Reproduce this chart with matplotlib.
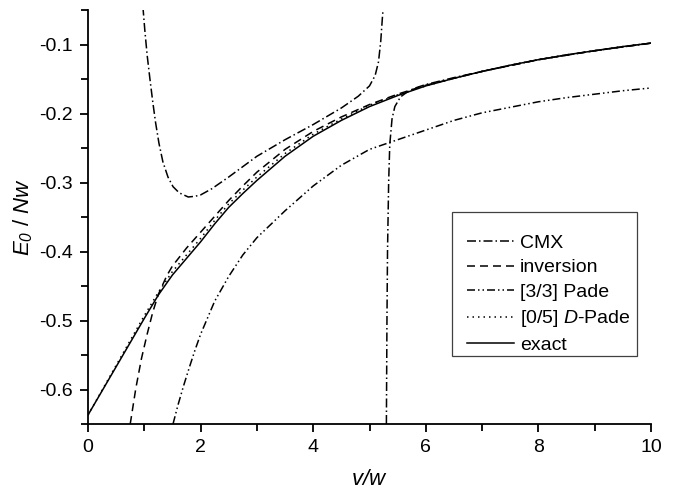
import matplotlib
matplotlib.use("Agg")
import matplotlib.pyplot as plt
from matplotlib.patches import Rectangle

plt.rcParams['font.family'] = ['Liberation Sans', 'DejaVu Sans']
plt.rcParams['mathtext.fontset'] = 'custom'
plt.rcParams['mathtext.rm'] = 'Liberation Sans:italic'
plt.rcParams['mathtext.it'] = 'Liberation Sans:italic'
plt.rcParams['axes.unicode_minus'] = False
plt.rcParams['lines.scale_dashes'] = False

# ---- data ----
exact_x = [0, 0.25, 0.5, 0.75, 1.0, 1.25, 1.5, 1.75, 2.0, 2.25, 2.5, 2.75, 3.0,
           3.5, 4.0, 4.5, 5.0, 5.5, 6.0, 6.5, 7.0, 7.5, 8.0, 8.5, 9.0, 9.5, 10.0]
exact_y = [-0.637, -0.602, -0.567, -0.532, -0.497, -0.463, -0.434, -0.410, -0.386,
           -0.360, -0.336, -0.316, -0.297, -0.262, -0.233, -0.210, -0.190, -0.174,
           -0.160, -0.149, -0.139, -0.130, -0.122, -0.115, -0.109, -0.103, -0.098]

dpade_x = [0, 0.25, 0.5, 0.75, 1.0, 1.25, 1.5, 1.75, 2.0, 2.25, 2.5, 2.75, 3.0,
           3.5, 4.0, 4.5, 5.0, 5.5, 6.0, 6.5, 7.0, 7.5, 8.0, 8.5, 9.0, 9.5, 10.0]
dpade_y = [-0.637, -0.601, -0.565, -0.529, -0.493, -0.459, -0.429, -0.405, -0.381,
           -0.355, -0.331, -0.311, -0.292, -0.258, -0.230, -0.208, -0.188, -0.173,
           -0.160, -0.149, -0.139, -0.130, -0.122, -0.115, -0.109, -0.103, -0.098]

inv_x = [0.75, 0.85, 0.95, 1.05, 1.15, 1.25, 1.4, 1.5, 1.75, 2.0, 2.25, 2.5, 2.75,
         3.0, 3.5, 4.0, 4.5, 5.0, 5.5, 6.0, 7.0, 8.0, 9.0, 10.0]
inv_y = [-0.650, -0.598, -0.555, -0.520, -0.488, -0.462, -0.435, -0.421, -0.395,
         -0.372, -0.349, -0.326, -0.305, -0.285, -0.252, -0.226, -0.205, -0.187,
         -0.172, -0.159, -0.139, -0.122, -0.109, -0.098]

cmx_left_x = [0.975, 1.01, 1.05, 1.10, 1.15, 1.20, 1.26, 1.33, 1.42, 1.51, 1.62,
              1.78, 1.9, 2.0, 2.2, 2.5, 3.0, 3.5, 4.0, 4.5, 4.8, 5.0, 5.1, 5.16,
              5.2, 5.23, 5.25]
cmx_left_y = [-0.045, -0.080, -0.115, -0.150, -0.183, -0.213, -0.243, -0.270,
              -0.292, -0.306, -0.315, -0.321, -0.320, -0.318, -0.309, -0.292,
              -0.262, -0.238, -0.216, -0.192, -0.175, -0.160, -0.145, -0.125,
              -0.095, -0.060, -0.040]

cmx_right_x = [5.30, 5.31, 5.32, 5.34, 5.36, 5.40, 5.45, 5.55, 5.7, 5.85, 6.0,
               6.5, 7.0, 8.0, 9.0, 10.0]
cmx_right_y = [-0.650, -0.500, -0.400, -0.300, -0.245, -0.208, -0.190, -0.176,
               -0.167, -0.162, -0.158, -0.148, -0.139, -0.122, -0.109, -0.098]

pade_x = [1.51, 1.6, 1.7, 1.8, 1.9, 2.0, 2.25, 2.5, 2.75, 3.0, 3.5, 4.0, 4.5, 5.0,
          5.5, 6.0, 6.5, 7.0, 7.5, 8.0, 8.5, 9.0, 9.5, 10.0]
pade_y = [-0.650, -0.622, -0.594, -0.568, -0.543, -0.520, -0.472, -0.436, -0.405,
          -0.380, -0.341, -0.305, -0.275, -0.252, -0.238, -0.224, -0.210, -0.199,
          -0.191, -0.183, -0.177, -0.172, -0.167, -0.163]

labels = ['CMX', 'inversion', '[3/3] Pade', '[0/5] $D$-Pade', 'exact']
xticks = [0, 2, 4, 6, 8, 10]
yticks = [-0.6, -0.5, -0.4, -0.3, -0.2, -0.1]

# ---- styles ----
px = 0.72
ls_cmx = (0, (9 * px, 3 * px, 1.5 * px, 3 * px))
ls_inv = (0, (8 * px, 5 * px))
ls_pade = (0, (8 * px, 3 * px, 1.5 * px, 3 * px, 1.5 * px, 3 * px))
ls_dot = (0, (1.5 * px, 4 * px))
lw = 1.1

W, H = 676, 492
fig = plt.figure(figsize=(W / 100, H / 100), dpi=100)
ax = fig.add_axes([88 / W, 1 - 424 / H, (651 - 88) / W, (424 - 10) / H])

h1, = ax.plot(cmx_left_x, cmx_left_y, color='black', lw=lw, linestyle=ls_cmx)
ax.plot(cmx_right_x, cmx_right_y, color='black', lw=lw, linestyle=ls_cmx)
h2, = ax.plot(inv_x, inv_y, color='black', lw=lw, linestyle=ls_inv)
h3, = ax.plot(pade_x, pade_y, color='black', lw=lw, linestyle=ls_pade)
h4, = ax.plot(dpade_x, dpade_y, color='black', lw=lw, linestyle=ls_dot)
h5, = ax.plot(exact_x, exact_y, color='black', lw=lw, linestyle='-')

ax.set_xlim(0, 10)
ax.set_ylim(-0.65, -0.05)
ax.set_xticks(xticks)
ax.set_xticklabels([str(t) for t in xticks])
ax.set_yticks(yticks)
ax.set_yticklabels(['%.1f' % t for t in yticks])
ax.set_xticks([1, 3, 5, 7, 9], minor=True)
ax.set_yticks([-0.65, -0.55, -0.45, -0.35, -0.25, -0.15, -0.05], minor=True)

for s in ['top', 'right']:
    ax.spines[s].set_visible(False)
for s in ['left', 'bottom']:
    ax.spines[s].set_linewidth(1.3)
ax.tick_params(which='major', direction='out', length=6, width=1.3, labelsize=14, pad=5)
ax.tick_params(which='minor', direction='out', length=5, width=1.3)

ax.set_xlabel('$v/w$', fontsize=16, labelpad=9)
ax.set_ylabel('$E_0$ / $Nw$', fontsize=16, labelpad=3)

# legend frame drawn separately (Origin-style box with extra top space)
fig.patches.append(Rectangle((452 / W, 1 - 356 / H), (637 - 452) / W, (356 - 212) / H,
                             transform=fig.transFigure, fill=False,
                             edgecolor='#404040', linewidth=0.9, zorder=5))
leg = ax.legend([h1, h2, h3, h4, h5], labels, loc='upper left',
                bbox_to_anchor=(467 / W, 1 - 234 / H), bbox_transform=fig.transFigure,
                borderaxespad=0, borderpad=0, fontsize=14, frameon=False,
                handlelength=2.42, handletextpad=0.31, labelspacing=0.37)

fig.savefig('out.png', dpi=100)
